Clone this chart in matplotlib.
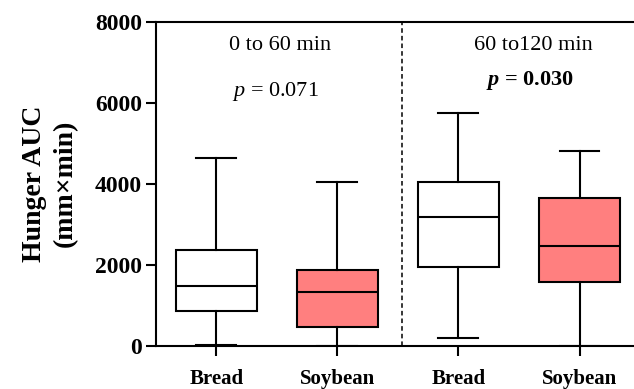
import matplotlib
matplotlib.use("Agg")
import matplotlib.pyplot as plt

plt.rcParams['font.family'] = ['Liberation Serif', 'DejaVu Serif']
plt.rcParams['mathtext.fontset'] = 'custom'
plt.rcParams['mathtext.rm'] = 'Liberation Serif'
plt.rcParams['mathtext.it'] = 'Liberation Serif:italic'
plt.rcParams['mathtext.bf'] = 'Liberation Serif:bold'
plt.rcParams['mathtext.bfit'] = 'Liberation Serif:italic:bold'

# box summaries (mm x min)
labels = ["Bread", "Soybean", "Bread", "Soybean"]
whislo = [20, 0, 185, 0]
q1 = [844, 449, 1931, 1560]
med = [1462, 1321, 3180, 2464]
q3 = [2350, 1864, 4030, 3635]
whishi = [4622, 4044, 5733, 4802]
face = ["white", "#ff7f7f", "white", "#ff7f7f"]

periods = ["0 to 60 min", "60 to120 min"]
p_text = ["$\\mathit{p}$ = 0.071", "$\\mathbfit{p}$ = 0.030"]

stats = []
for i in range(len(labels)):
    stats.append(dict(label=labels[i], whislo=whislo[i], q1=q1[i], med=med[i],
                      q3=q3[i], whishi=whishi[i], fliers=[]))

fig = plt.figure(figsize=(6.34, 3.89), dpi=100)
ax = fig.add_axes([0.2456, 0.1118, 0.7544, 0.8329])

lw = 1.5
bp = ax.bxp(stats, positions=[1, 2, 3, 4], widths=0.667, capwidths=0.33,
            patch_artist=True, showfliers=False,
            boxprops=dict(linewidth=lw, edgecolor="black"),
            whiskerprops=dict(linewidth=lw, color="black"),
            capprops=dict(linewidth=lw, color="black"),
            medianprops=dict(linewidth=lw, color="black"))
for patch, c in zip(bp["boxes"], face):
    patch.set_facecolor(c)

ax.axvline(2.53, color="black", linestyle=(0, (3, 2)), linewidth=1.1, zorder=0)

ax.set_xlim(0.5, 4.45)
ax.set_ylim(0, 8000)
ax.set_yticks([0, 2000, 4000, 6000, 8000])
ax.spines["right"].set_visible(False)
for s in ["left", "bottom", "top"]:
    ax.spines[s].set_linewidth(lw)
ax.tick_params(axis="both", width=lw, length=7, direction="out")
ax.set_xticks([1, 2, 3, 4])
ax.set_xticklabels(labels, fontsize=15, fontweight="bold")
for t in ax.get_yticklabels():
    t.set_fontsize(17)
    t.set_fontweight("bold")
ax.tick_params(axis="x", pad=10)
ax.tick_params(axis="y", pad=3)

ax.set_ylabel("Hunger AUC\n(mm×min)", fontsize=20, fontweight="bold",
              labelpad=12, linespacing=1.3)

ax.text(1.53, 7420, periods[0], ha="center", va="center", fontsize=16)
ax.text(1.49, 6260, p_text[0], ha="center", va="center", fontsize=16)
ax.text(3.62, 7420, periods[1], ha="center", va="center", fontsize=16)
ax.text(3.59, 6555, p_text[1], ha="center", va="center", fontsize=16, fontweight="bold")

fig.savefig("out.png", dpi=100)
